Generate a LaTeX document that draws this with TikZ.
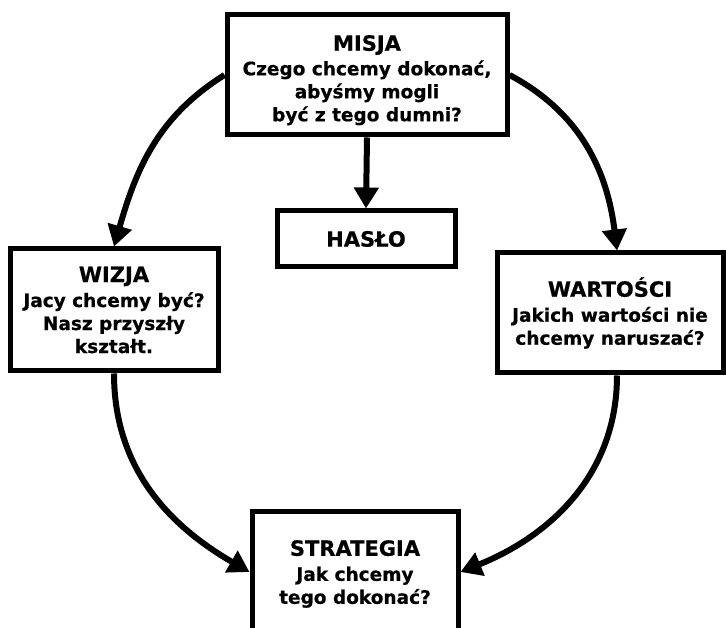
\documentclass[tikz,border=0pt]{standalone}
\usepackage{fontspec}
\setmainfont{DejaVu Sans}[BoldFeatures={FakeBold=0.6}]
\usetikzlibrary{arrows.meta,calc}
\newcommand{\ttl}[1]{{\fontsize{21}{23}\selectfont #1}}
\begin{document}
\begin{tikzpicture}[x=1pt,y=1pt,
  box/.style={draw, line width=5pt, fill=white, align=center, inner sep=0pt,
    font=\fontsize{18.5}{23}\selectfont\bfseries},
  conn/.style={line width=6pt, -{Triangle[width=24pt,length=21pt]}}]
\useasboundingbox (0,0) rectangle (726,628);
\clip (0,0) rectangle (726,628);
\node[box, minimum width=280pt, minimum height=120pt] (mis) at (367,553)
  {\rule{0pt}{26pt}\ttl{MISJA}\\[1.5pt]Czego chcemy dokonać,\\abyśmy mogli\\być z tego dumni?};
\node[box, minimum width=178pt, minimum height=56pt] (has) at (366,389) {\ttl{HASŁO}};
\node[box, minimum width=208pt, minimum height=122pt] (wiz) at (114,318)
  {\ttl{WIZJA}\\[2pt]Jacy chcemy być?\\Nasz przyszły\\kształt.};
\node[box, minimum width=226pt, minimum height=120pt] (war) at (610,315)
  {\ttl{WARTOŚCI}\\[2pt]Jakich wartości nie\\chcemy naruszać?};
\node[box, minimum width=206pt, minimum height=124pt] (str) at (355,54)
  {\ttl{STRATEGIA}\\[2pt]Jak chcemy\\tego dokonać?};
\coordinate (warn) at ($(war.north)+(7,0)$);
\coordinate (wars) at ($(war.south)+(7,0)$);
\coordinate (strw) at ($(str.west)+(0,2)$);
\coordinate (stre) at ($(str.east)+(0,2)$);
\draw[conn] (mis.south) -- (has.north);
\draw[conn] (mis.west) to[out=212,in=74] (wiz.north);
\draw[conn] (mis.east) to[out=-28,in=97] (warn);
\draw[conn] (wiz.south) to[out=-90,in=150] (strw);
\draw[conn] (wars) to[out=-90,in=22] (stre);
\end{tikzpicture}
\end{document}
